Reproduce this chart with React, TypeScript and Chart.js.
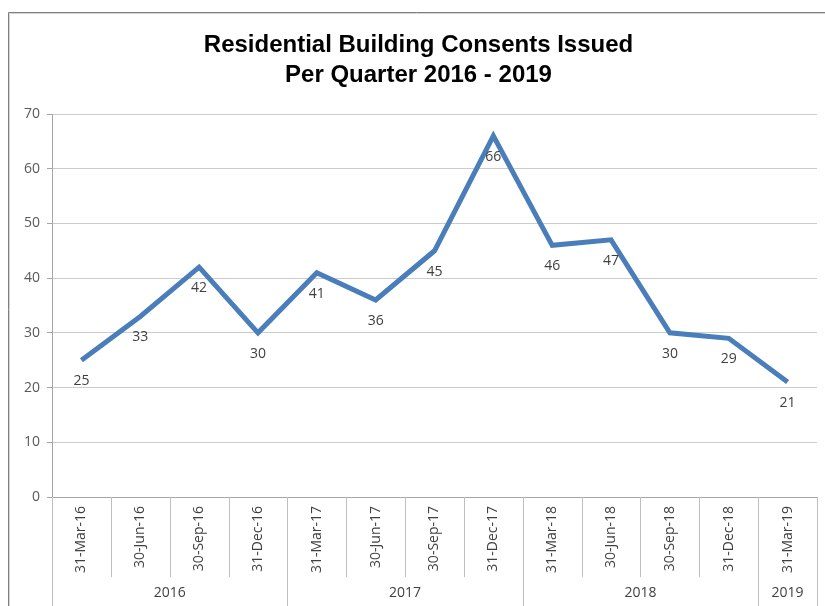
import React, { useEffect, useRef } from "react";
import { Chart, registerables } from "chart.js";

Chart.register(...registerables);

const categories = [
  "31-Mar-16", "30-Jun-16", "30-Sep-16", "31-Dec-16",
  "31-Mar-17", "30-Jun-17", "30-Sep-17", "31-Dec-17",
  "31-Mar-18", "30-Jun-18", "30-Sep-18", "31-Dec-18",
  "31-Mar-19",
];
const consents = [25, 33, 42, 30, 41, 36, 45, 66, 46, 47, 30, 29, 21];
const yearLabels = ["2016", "2017", "2018", "2019"];
const yearSpans = [4, 4, 4, 1];
const yTicks = { min: 0, max: 70, step: 10 };
const titleLines = ["Residential Building Consents Issued", "Per Quarter 2016 - 2019"];

const LABEL_FONT = "'Open Sans', 'DejaVu Sans', sans-serif";
const TITLE_FONT = "'Liberation Sans Narrow', 'Liberation Sans', sans-serif";

const framePlugin = {
  id: "frame",
  beforeDraw(chart: any) {
    const ctx = chart.ctx;
    ctx.save();
    ctx.fillStyle = "#ffffff";
    ctx.fillRect(0, 0, chart.width, chart.height);
    ctx.strokeStyle = "#7f7f7f";
    ctx.lineWidth = 1;
    ctx.beginPath();
    ctx.moveTo(8.5, chart.height);
    ctx.lineTo(8.5, 12.5);
    ctx.lineTo(chart.width, 12.5);
    ctx.stroke();
    ctx.strokeStyle = "#d4d4d4";
    ctx.beginPath();
    ctx.moveTo(9.5, chart.height);
    ctx.lineTo(9.5, 13.5);
    ctx.lineTo(chart.width, 13.5);
    ctx.stroke();
    ctx.restore();
  },
};

const groupsPlugin = {
  id: "groups",
  afterDraw(chart: any) {
    const ctx = chart.ctx;
    const xs = chart.scales.x;
    const bottom = chart.chartArea.bottom;
    const n = categories.length;
    const half = (xs.getPixelForValue(1) - xs.getPixelForValue(0)) / 2;
    const boundary = (i: number) =>
      i < n ? xs.getPixelForValue(i) - half : xs.getPixelForValue(n - 1) + half;
    ctx.save();
    ctx.strokeStyle = "#bfbfbf";
    ctx.lineWidth = 1;
    const yearStarts: number[] = [0];
    let acc = 0;
    yearSpans.forEach((s) => {
      acc += s;
      yearStarts.push(acc);
    });
    for (let i = 0; i <= n; i++) {
      const px = Math.round(boundary(i)) + 0.5;
      const isYear = yearStarts.includes(i);
      ctx.beginPath();
      ctx.moveTo(px, bottom);
      ctx.lineTo(px, isYear ? chart.height : bottom + 80);
      ctx.stroke();
    }
    ctx.fillStyle = "#404040";
    ctx.font = `14px ${LABEL_FONT}`;
    ctx.textAlign = "center";
    ctx.textBaseline = "middle";
    yearLabels.forEach((lab, k) => {
      const a = boundary(yearStarts[k]);
      const b = boundary(yearStarts[k + 1]);
      ctx.fillText(lab, (a + b) / 2, bottom + 96);
    });
    ctx.restore();
  },
};

const dataLabelPlugin = {
  id: "dataLabels",
  afterDatasetsDraw(chart: any) {
    const ctx = chart.ctx;
    const meta = chart.getDatasetMeta(0);
    ctx.save();
    ctx.fillStyle = "#404040";
    ctx.font = `14px ${LABEL_FONT}`;
    ctx.textAlign = "center";
    ctx.textBaseline = "middle";
    meta.data.forEach((pt: any, i: number) => {
      ctx.fillText(String(consents[i]), pt.x, pt.y + 21);
    });
    ctx.restore();
  },
};

export default function App() {
  const ref = useRef<HTMLCanvasElement | null>(null);
  useEffect(() => {
    if (!ref.current) return;
    const chart = new Chart(ref.current, {
      type: "line",
      data: {
        labels: categories,
        datasets: [
          {
            data: consents,
            borderColor: "#4A7EBB",
            borderWidth: 5,
            pointRadius: 0,
            tension: 0,
            fill: false,
            borderJoinStyle: "miter",
          },
        ],
      },
      plugins: [framePlugin, groupsPlugin, dataLabelPlugin],
      options: {
        responsive: false,
        animation: false,
        devicePixelRatio: 1,
        layout: { padding: { left: 20, right: 8, top: 0, bottom: 0 } },
        plugins: {
          legend: { display: false },
          tooltip: { enabled: false },
          title: {
            display: true,
            text: titleLines,
            color: "#000000",
            font: { family: TITLE_FONT, size: 24, weight: "bold", lineHeight: 1.25 },
            padding: { top: 30, bottom: 24 },
          },
        },
        scales: {
          x: {
            type: "category",
            offset: true,
            grid: { display: false, drawTicks: false },
            border: { display: true, color: "#a6a6a6" },
            ticks: {
              minRotation: 90,
              maxRotation: 90,
              autoSkip: false,
              padding: 9,
              color: "#404040",
              font: { family: LABEL_FONT, size: 14 },
            },
            afterFit(scale: any) {
              scale.height = 109;
            },
          },
          y: {
            min: yTicks.min,
            max: yTicks.max,
            ticks: {
              stepSize: yTicks.step,
              padding: 7,
              color: "#595959",
              font: { family: LABEL_FONT, size: 14 },
            },
            grid: { color: "#cccccc", tickLength: 5, tickColor: "#a6a6a6" },
            border: { display: true, color: "#a6a6a6" },
            afterFit(scale: any) {
              scale.width = 32;
            },
          },
        },
      },
    });
    return () => chart.destroy();
  }, []);
  return (
    <div style={{ position: "fixed", left: 0, top: 0, width: 825, height: 606, background: "#fff" }}>
      <canvas ref={ref} width={825} height={606} style={{ display: "block", width: 825, height: 606 }} />
    </div>
  );
}
